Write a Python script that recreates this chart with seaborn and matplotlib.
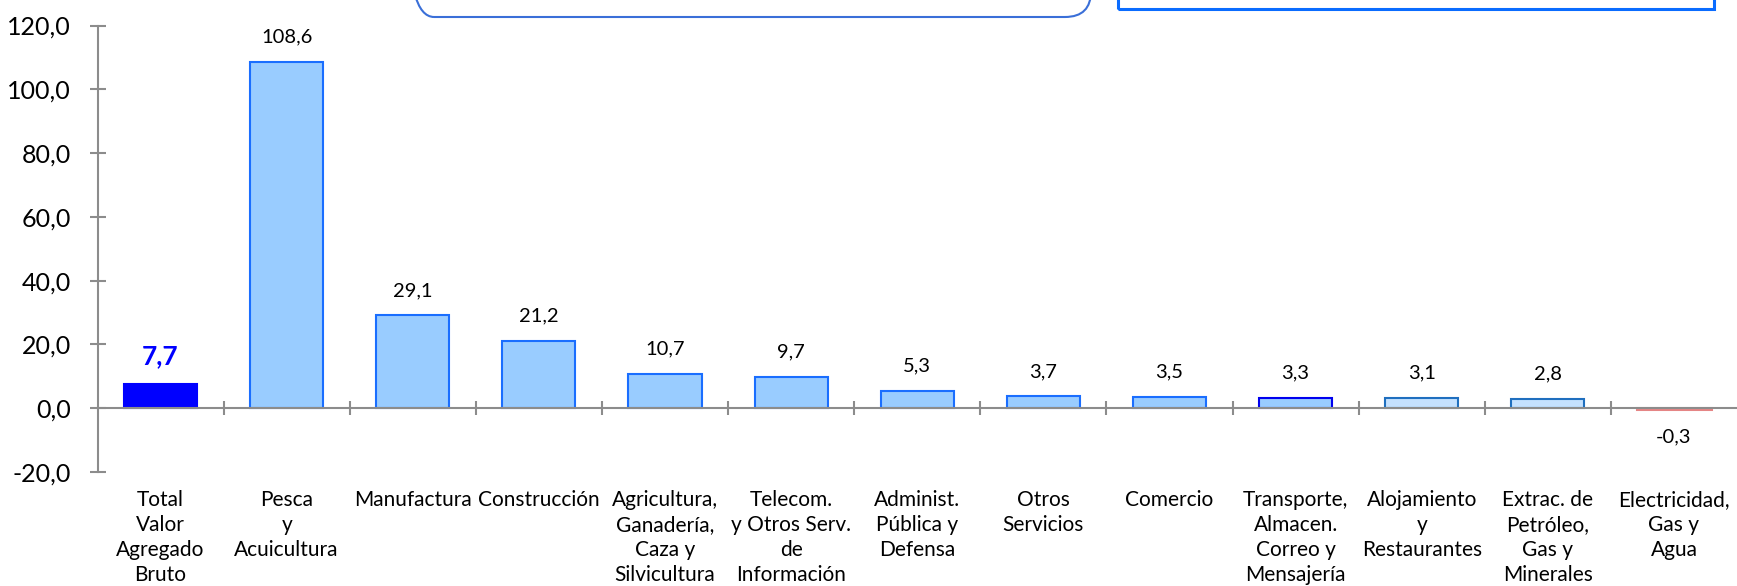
import matplotlib
matplotlib.use("Agg")
import matplotlib.pyplot as plt
import matplotlib.patches as mpatches
from matplotlib.transforms import IdentityTransform
from matplotlib.ticker import FuncFormatter, FixedLocator, MultipleLocator
import pandas as pd
import seaborn as sns

# datos
categorias = [
    "Total\nValor\nAgregado\nBruto",
    "Pesca\ny\nAcuicultura",
    "Manufactura",
    "Construcción",
    "Agricultura,\nGanadería,\nCaza y\nSilvicultura",
    "Telecom.\ny Otros Serv.\nde\nInformación",
    "Administ.\nPública y\nDefensa",
    "Otros\nServicios",
    "Comercio",
    "Transporte,\nAlmacen.\nCorreo y\nMensajería",
    "Alojamiento\ny\nRestaurantes",
    "Extrac. de\nPetróleo,\nGas y\nMinerales",
    "Electricidad,\nGas y\nAgua",
]
valores = [7.7, 108.6, 29.1, 21.2, 10.7, 9.7, 5.3, 3.7, 3.5, 3.3, 3.1, 2.8, -0.3]

# estilos por barra
relleno = ["#0000FF"] + ["#99CCFF"] * 9 + ["#C4E1FF"] * 2 + ["#E58585"]
borde = (["#0000FF"] + ["#1A6EFF"] * 8 + ["#0000EE"]
         + ["#1F6FBF"] * 2 + ["#E58585"])

W, H, DPI = 1737, 586, 100

sns.set_theme(style="white")
plt.rcParams["font.family"] = ["Lato", "DejaVu Sans"]

df = pd.DataFrame({"sector": categorias, "var": valores})

fig = plt.figure(figsize=(W / DPI, H / DPI), dpi=DPI)
ax = fig.add_axes([97.5 / W, 114 / H, 1.0 - 97.5 / W, (472 - 25.5) / H])

sns.barplot(data=df, x="sector", y="var", hue="sector", order=categorias,
            hue_order=categorias, palette=relleno, legend=False,
            width=0.58, saturation=1, ax=ax)

for p, ec in zip(ax.patches, borde):
    p.set_edgecolor(ec)
    p.set_linewidth(1.5)
ax.patches[-1].set_linewidth(2.2)

ax.set_xlim(-0.5, len(categorias) - 0.5)
ax.set_ylim(-20, 120)

# ejes estilo Excel
gris = "#8C8C8C"
for s in ["top", "right"]:
    ax.spines[s].set_visible(False)
ax.spines["left"].set_color(gris)
ax.spines["left"].set_linewidth(1.5)
ax.spines["bottom"].set_color(gris)
ax.spines["bottom"].set_linewidth(1.5)
ax.spines["bottom"].set_position(("data", 0))

ax.yaxis.set_major_locator(MultipleLocator(20))
ax.yaxis.set_major_formatter(FuncFormatter(lambda v, _: f"{v:.1f}".replace(".", ",")))
ax.tick_params(axis="y", which="major", direction="inout", length=12, width=1.5,
               color=gris, labelsize=18, pad=13, labelcolor="black", left=True)

ax.xaxis.set_minor_locator(FixedLocator([i + 0.5 for i in range(len(categorias) - 1)]))
ax.tick_params(axis="x", which="minor", direction="inout", length=10, width=1.5,
               color=gris, bottom=True)
ax.tick_params(axis="x", which="major", length=0, labelsize=15, pad=59,
               labelcolor="black")
for lbl in ax.get_xticklabels():
    lbl.set_linespacing(1.3)
    lbl.set_verticalalignment("top")

ax.set_xlabel("")
ax.set_ylabel("")
ax.grid(False)

# etiquetas de valores
for i, v in enumerate(valores):
    txt = f"{v:.1f}".replace(".", ",")
    off = 18 if v >= 0 else -20
    if i == 0:
        ax.annotate(txt, (i, v), xytext=(0, off + 2), textcoords="offset points",
                    ha="center", va="center", fontsize=19, fontweight="bold",
                    color="#0000FF")
    else:
        ax.annotate(txt, (i, v), xytext=(0, off), textcoords="offset points",
                    ha="center", va="center", fontsize=14.5, color="black")

# recuadros superiores (recortados)
caja = mpatches.FancyBboxPatch((408, H - 17), 1091 - 408, 120,
                               boxstyle="round,pad=0,rounding_size=26",
                               transform=IdentityTransform(), fill=False,
                               edgecolor="#3A6FD8", linewidth=1.5, clip_on=False)
fig.add_artist(caja)
rect = mpatches.Rectangle((1118, H - 9), 1714 - 1118, 60,
                          transform=IdentityTransform(), fill=False,
                          edgecolor="#0A6CFF", linewidth=2.2, clip_on=False)
fig.add_artist(rect)

fig.savefig("out.png", dpi=DPI, facecolor="white")
